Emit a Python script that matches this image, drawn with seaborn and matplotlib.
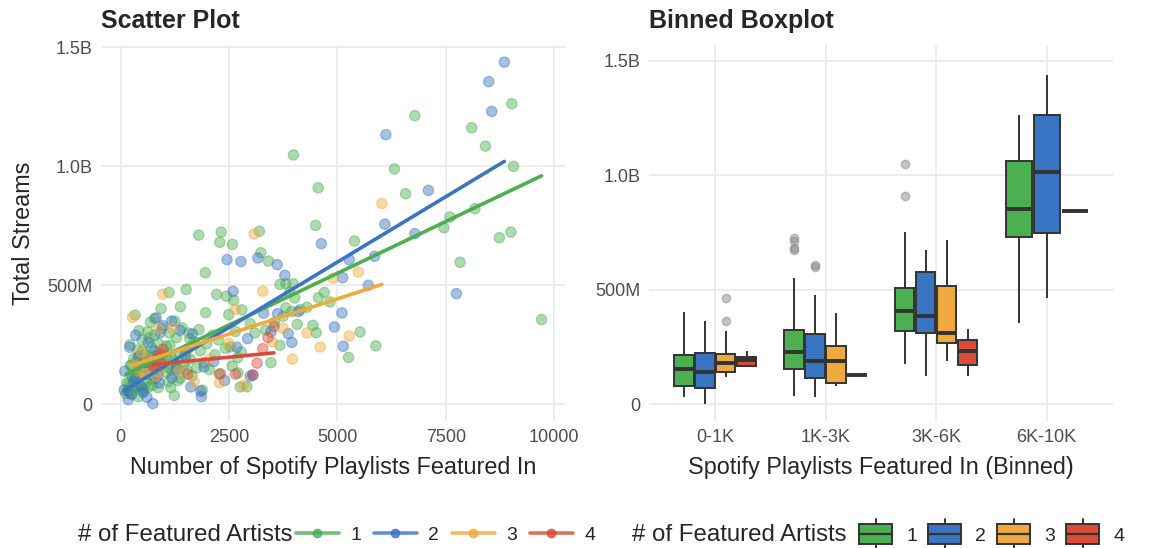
import matplotlib
matplotlib.use("Agg")
import numpy as np
import pandas as pd
import seaborn as sns
import matplotlib.pyplot as plt
from matplotlib.lines import Line2D
from matplotlib.patches import Rectangle, Patch
from matplotlib.legend_handler import HandlerBase
from matplotlib.ticker import FuncFormatter

# Songs: Spotify playlist count vs total streams (millions), split by artist count
artists1_playlists = [410, 122, 205, 164, 520, 286, 640, 243, 355, 731, 448, 190, 598, 317, 812, 262,
                      473, 689, 381, 896, 537, 228, 764, 612, 433, 941, 305, 668, 846, 552, 978, 397,
                      713, 873, 497, 789, 626, 958, 688, 337, 936,
                      265, 530, 180, 870, 350, 145, 700, 290, 460, 820,
                      240, 580, 390, 760, 905, 505, 220, 655, 425, 780,
                      1240, 1887, 2762, 2915, 1105, 1380, 1650, 2306, 2710, 1190, 1530, 2050, 1320,
                      1760, 1085, 2573, 1450, 1920, 1230, 1610, 2701, 1050, 2180, 1370, 2785, 1840,
                      1510, 2420, 2534, 1140, 1990, 1700, 2260, 1290, 2120, 1570, 2650, 1810, 1420,
                      2990, 2496, 1963, 2800, 2610, 2443, 2215, 1514, 1955, 2580, 2290, 1804, 2321,
                      1160, 1330, 1060, 1270, 1180, 1480, 1060, 1600, 1130, 1250, 1380, 1120,
                      3470, 5258, 5890, 3676, 3100, 4512, 5525, 3350, 4437, 4075, 3550, 3750, 3950,
                      4150, 3813, 4300, 4831, 4018, 4566, 4700, 3904, 3676, 3813, 3980, 3409, 3233,
                      5395, 3203, 4498, 4559, 3988,
                      6317, 6575, 6788, 7459, 7595, 7831, 8098, 8174, 8417, 8737, 9003, 9025, 9064, 9710]
artists1_streams = [32, 45, 52, 58, 63, 68, 72, 75, 77, 79, 80, 88, 95, 102, 110, 118,
                    125, 132, 140, 148, 156, 162, 168, 174, 180, 186, 192, 198, 204, 210, 216, 228,
                    240, 255, 270, 290, 305, 320, 345, 375, 402,
                    40, 55, 62, 70, 76, 90, 105, 115, 130, 145,
                    165, 178, 190, 200, 212, 222, 250, 280, 310, 360,
                    37, 60, 73, 74, 95, 110, 120, 129, 132, 140, 145, 146, 150,
                    153, 157, 161, 168, 175, 183, 190, 196, 203, 209, 215, 220, 225,
                    229, 235, 241, 248, 255, 262, 270, 280, 290, 300, 306, 314, 322,
                    339, 377, 385, 397, 437, 454, 462, 483, 553, 672, 681, 711, 724,
                    70, 100, 135, 170, 195, 210, 245, 275, 300, 350, 410, 470,
                    175, 197, 246, 248, 300, 301, 304, 312, 332, 336, 345, 370, 390,
                    398, 405, 408, 430, 447, 448, 470, 472, 504, 507, 507, 602, 637,
                    686, 727, 752, 910, 1048,
                    989, 885, 1213, 742, 787, 597, 1162, 822, 1085, 700, 724, 1263, 1000, 356]

artists2_playlists = [746, 610, 250, 84, 480, 890, 330, 700, 98, 540, 950, 420, 780, 640, 349, 980, 822,
                      180, 520, 300, 860, 450, 690, 210, 910,
                      1865, 1849, 1621, 2400, 1187, 2991, 1279, 1925, 2150, 1500, 2680, 2930, 1659,
                      1377, 1180, 2595, 2777, 2458,
                      3052, 5137, 3950, 3866, 3470, 4932, 3623, 3300, 5107, 4100, 5715, 5122, 3790,
                      3615, 5274, 3167, 5860, 4630,
                      7747, 6788, 6096, 7100, 6119, 8562, 8493, 8852]
artists2_streams = [3, 30, 45, 60, 73, 90, 110, 125, 139, 155, 170, 200, 224, 260, 290, 330, 363,
                    20, 50, 95, 120, 160, 190, 240, 300,
                    32, 55, 73, 100, 112, 118, 146, 157, 180, 200, 240, 276, 296,
                    311, 350, 475, 600, 608,
                    122, 244, 260, 297, 304, 325, 381, 383, 384, 390, 500, 532, 542,
                    587, 608, 615, 622, 675,
                    465, 717, 757, 899, 1133, 1231, 1356, 1438]

artists3_playlists = [820, 560, 690, 430, 905, 350, 760, 620, 940, 480, 870, 274, 974,
                      2840, 2283, 1700, 1350, 2050, 1550, 2500, 1200, 2650,
                      3965, 4605, 3500, 5274, 4300, 3750, 3281, 4900, 5486, 3082,
                      6027]
artists3_streams = [120, 128, 134, 139, 150, 165, 181, 195, 210, 219, 319, 365, 463,
                    80, 90, 95, 140, 190, 230, 256, 320, 398,
                    190, 241, 262, 287, 300, 320, 475, 530, 556, 716,
                    844]

artists4_playlists = [750, 800, 870, 920, 980, 1550, 2283, 2650, 3050, 3150, 3280, 3400, 3539]
artists4_streams = [161, 165, 193, 208, 232, 127, 127, 127, 124, 173, 234, 281, 327]

artist_levels = ["1", "2", "3", "4"]
colors = {"1": "#4CAF50", "2": "#3A75C3", "3": "#EFA93D", "4": "#DA4B3A"}
bin_edges = [0, 1000, 3000, 6000, 10000]
bin_labels = ["0-1K", "1K-3K", "3K-6K", "6K-10K"]

frames = []
for lvl, xs, ys in [("1", artists1_playlists, artists1_streams),
                    ("2", artists2_playlists, artists2_streams),
                    ("3", artists3_playlists, artists3_streams),
                    ("4", artists4_playlists, artists4_streams)]:
    frames.append(pd.DataFrame({"playlists": xs, "streams": np.array(ys) * 1e6, "artists": lvl}))
df = pd.concat(frames, ignore_index=True)
df["bin"] = pd.cut(df["playlists"], bins=bin_edges, labels=bin_labels)

sns.set_theme(style="whitegrid")
plt.rcParams["font.family"] = ["Liberation Sans", "DejaVu Sans"]
grid_col = "#EBEBEB"
tick_col = "#4D4D4D"


def streams_fmt(v, pos):
    if v == 0:
        return "0"
    if abs(v) >= 1e9:
        return f"{v / 1e9:.1f}B"
    return f"{v / 1e6:.0f}M"


fig = plt.figure(figsize=(11.49, 5.48), dpi=100)
ax1 = fig.add_axes([0.0879, 0.2318, 0.4038, 0.6861])
ax2 = fig.add_axes([0.5648, 0.2318, 0.4038, 0.6861])

# scatter + linear fits
sns.scatterplot(data=df, x="playlists", y="streams", hue="artists", hue_order=artist_levels,
                palette=colors, alpha=0.45, s=55, edgecolor="face", linewidth=0.9,
                legend=False, ax=ax1)
for lvl in artist_levels:
    sub = df[df["artists"] == lvl]
    sns.regplot(data=sub, x="playlists", y="streams", scatter=False, ci=None, truncate=True,
                color=colors[lvl], line_kws=dict(lw=2.6), ax=ax1)

ax1.set_xlim(-450, 10250)
ax1.set_ylim(-70e6, 1.51e9)
ax1.set_xticks([0, 2500, 5000, 7500, 10000])
ax1.set_yticks([0, 5e8, 1e9, 1.5e9])
ax1.yaxis.set_major_formatter(FuncFormatter(streams_fmt))
ax1.set_xlabel("Number of Spotify Playlists Featured In", fontsize=16.8, labelpad=7)
ax1.set_ylabel("Total Streams", fontsize=16.8, labelpad=9)
ax1.set_title("Scatter Plot", loc="left", fontsize=18, fontweight="bold", pad=12)

# binned boxplot, one dodge group per bin so missing levels don't leave holes
for i, lab in enumerate(bin_labels):
    sub = df[df["bin"] == lab].copy()
    sub["pos"] = i
    present = [l for l in artist_levels if (sub["artists"] == l).any()]
    sns.boxplot(data=sub, x="pos", y="streams", hue="artists", hue_order=present,
                palette=colors, native_scale=True, width=0.76, gap=0.07, saturation=1,
                linecolor="#333333", linewidth=1.4, showcaps=False,
                medianprops=dict(linewidth=2.8, color="#333333"),
                flierprops=dict(marker="o", markerfacecolor="#8A8A8A", markeredgecolor="#8A8A8A",
                                alpha=0.5, markersize=6),
                legend=False, ax=ax2)

ax2.set_xlim(-0.6, 3.6)
ax2.set_ylim(-73e6, 1.569e9)
ax2.set_xticks(range(len(bin_labels)))
ax2.set_xticklabels(bin_labels)
ax2.set_yticks([0, 5e8, 1e9, 1.5e9])
ax2.yaxis.set_major_formatter(FuncFormatter(streams_fmt))
ax2.set_xlabel("Spotify Playlists Featured In (Binned)", fontsize=16.8, labelpad=7)
ax2.set_ylabel("")
ax2.set_title("Binned Boxplot", loc="left", fontsize=18, fontweight="bold", pad=12)

for ax in (ax1, ax2):
    for sp in ax.spines.values():
        sp.set_visible(False)
    ax.grid(True, color=grid_col, linewidth=1.3)
    ax.set_axisbelow(True)
    ax.tick_params(axis="both", labelsize=13, colors=tick_col, length=0, pad=6)


# legend keys
class BoxKey(HandlerBase):
    def create_artists(self, legend, orig_handle, xdescent, ydescent, width, height, fontsize, trans):
        x0, y0 = -xdescent, -ydescent
        cx = x0 + width / 2
        whisk = Line2D([cx, cx], [y0 - 0.35 * height, y0 + 1.35 * height], color="#333333", lw=1.4,
                       transform=trans)
        box = Rectangle((x0, y0 - 0.1 * height), width, 1.2 * height,
                        facecolor=orig_handle.get_facecolor(), edgecolor="#333333", lw=1.4,
                        transform=trans)
        med = Line2D([x0, x0 + width], [y0 + 0.5 * height] * 2, color="#333333", lw=1.6,
                     transform=trans)
        return [whisk, box, med]


leg_y = 1 - 535 / 548
line_handles = [Line2D([], [], color=colors[l], lw=2.6, marker="o", markersize=6, alpha=0.8)
                for l in artist_levels]
box_handles = [Patch(facecolor=colors[l]) for l in artist_levels]

fig.text(78 / 1149, leg_y, "# of Featured Artists", fontsize=17.3, va="center", ha="left")
fig.legend(line_handles, artist_levels, loc="center left", bbox_to_anchor=(296 / 1149, leg_y),
           ncol=4, frameon=False, fontsize=14, handlelength=2.2, handletextpad=0.6,
           columnspacing=0.65, borderaxespad=0, borderpad=0)

fig.text(632 / 1149, leg_y, "# of Featured Artists", fontsize=17.3, va="center", ha="left")
fig.legend(box_handles, artist_levels, loc="center left", bbox_to_anchor=(859 / 1149, leg_y),
           ncol=4, frameon=False, fontsize=14, handlelength=1.7, handleheight=1.0,
           handletextpad=0.72, columnspacing=0.57, borderaxespad=0, borderpad=0,
           handler_map={Patch: BoxKey()})

fig.savefig("out.png", dpi=100)
